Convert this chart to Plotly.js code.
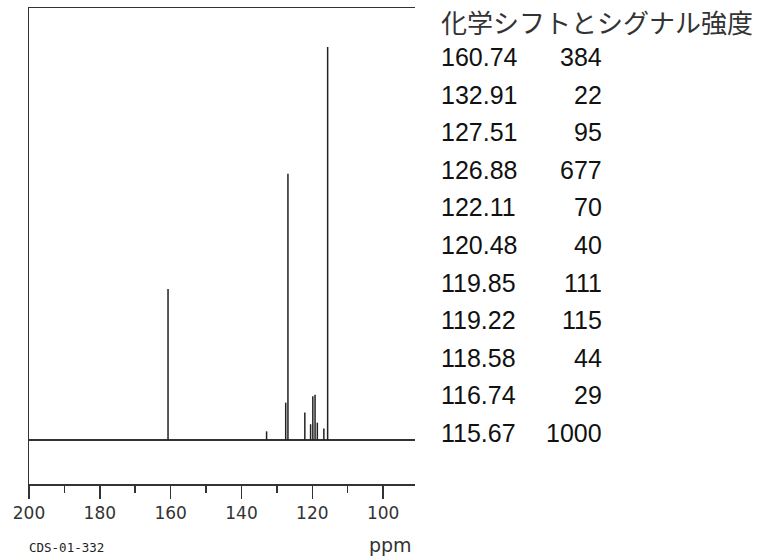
<!DOCTYPE html>
<html>
<head>
<meta charset="utf-8">
<script src="https://cdn.plot.ly/plotly-3.0.1.min.js"></script>
<style>html,body{margin:0;padding:0;background:#fff;}#chart{width:760px;height:556px;}</style>
</head>
<body>
<div id="chart"></div>
<script>
const shifts = [160.74, 132.91, 127.51, 126.88, 122.11, 120.48, 119.85, 119.22, 118.58, 116.74, 115.67];
const intensities = [384, 22, 95, 677, 70, 40, 111, 115, 44, 29, 1000];
const shiftLabels = ['160.74','132.91','127.51','126.88','122.11','120.48','119.85','119.22','118.58','116.74','115.67'];
const tableTitle = '化学シフトとシグナル強度';
const xTicks = [200, 180, 160, 140, 120, 100];
const xMinorTicks = [190, 170, 150, 130, 110];
const codeLabel = 'CDS-01-332';
const unitLabel = 'ppm';

const xs = [], ys = [];
shifts.forEach((s, i) => { xs.push(s, s, null); ys.push(0, intensities[i], null); });

const L = 29, T = 8, R = 415, B = 484;
const W = 760, H = 556;
const px = x => (x - L) / (R - L);
const py = y => (B - y) / (B - T);

const annotations = [];
annotations.push({xref:'paper', yref:'paper', x:px(439), y:py(21), xanchor:'left', yanchor:'middle',
  text: tableTitle, showarrow:false, font:{family:'Noto Sans CJK JP', size:26, color:'#333'}});
shifts.forEach((s, i) => {
  const yc = 57 + i * 37.6;
  annotations.push({xref:'paper', yref:'paper', x:px(439), y:py(yc), xanchor:'left', yanchor:'middle',
    text: shiftLabels[i], showarrow:false, font:{family:'Liberation Sans', size:25, color:'#111'}});
  annotations.push({xref:'paper', yref:'paper', x:px(604), y:py(yc), xanchor:'right', yanchor:'middle',
    text: String(intensities[i]), showarrow:false, font:{family:'Liberation Sans', size:25, color:'#111'}});
});
annotations.push({xref:'paper', yref:'paper', x:px(27), y:py(547), xanchor:'left', yanchor:'middle',
  text: codeLabel, showarrow:false, font:{family:'DejaVu Sans Mono', size:12.5, color:'#222'}});
annotations.push({xref:'paper', yref:'paper', x:px(414), y:py(545), xanchor:'right', yanchor:'middle',
  text: unitLabel, showarrow:false, font:{family:'DejaVu Sans', size:19, color:'#333'}});

Plotly.newPlot('chart', [{
  x: xs, y: ys, type:'scatter', mode:'lines',
  line:{color:'#222', width:1.5}, hoverinfo:'skip', showlegend:false
}], {
  width: W, height: H,
  margin:{l:L, t:T, r:W - R, b:H - B, pad:0},
  paper_bgcolor:'#fff', plot_bgcolor:'#fff',
  xaxis:{range:[200, 91], showgrid:false, zeroline:false, showline:true, linecolor:'#333', linewidth:1.5,
    mirror:true, ticks:'outside', ticklen:13, tickwidth:1.5, tickcolor:'#333',
    tickvals:xTicks, ticktext:xTicks.map(String),
    minor:{tickvals:xMinorTicks, ticks:'outside', ticklen:7, tickwidth:1.5, tickcolor:'#333'},
    tickfont:{family:'DejaVu Sans', size:17, color:'#333'}},
  yaxis:{range:[-112, 1099], showgrid:false, showticklabels:false, ticks:'',
    showline:true, linecolor:'#333', linewidth:1.5,
    zeroline:true, zerolinecolor:'#333', zerolinewidth:1.5},
  annotations: annotations
}, {staticPlot:true});
</script>
</body>
</html>
